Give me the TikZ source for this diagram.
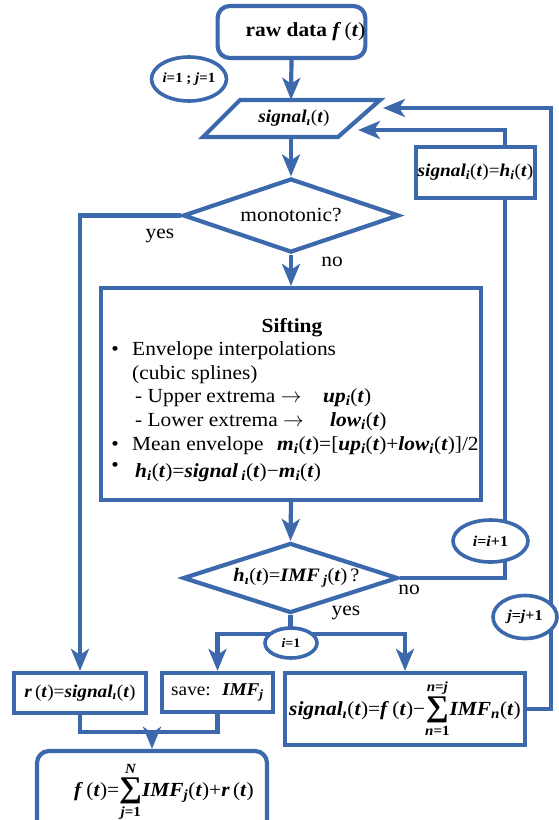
\documentclass[tikz,border=0pt]{standalone}
\usepackage{amsmath}
\usepackage{fontspec}
\setmainfont{Liberation Serif}[FakeStretch=1.07]
\usetikzlibrary{shapes.geometric,arrows.meta}
\definecolor{fb}{RGB}{60,104,172}
\newcommand\V[1]{\textbf{\textit{#1}}}
\newcommand\Sb[1]{\textsubscript{\V{#1}}}
\newcommand\Pt{(\V{t})}
\newcommand\fsz[1]{\fontsize{#1}{#1}\selectfont}
\newcommand\BigSum[2]{\ensuremath{\mathop{\raisebox{-1pt}{\fontsize{30}{30}\selectfont\bfseries ∑}}\limits_{\text{\bfseries #1}}^{\text{\bfseries #2}}}}
\begin{document}
\begin{tikzpicture}[x=1pt,y=-1pt,
  ln/.style={draw=fb,line width=4.2pt},
  arr/.style={ln,-{Stealth[length=22pt,width=18pt,inset=6pt]}},
  box/.style={draw=fb,line width=4.2pt,fill=white,inner sep=0,align=center,font=\fsz{18}},
  rbox/.style={box,rounded corners=12pt},
  dia/.style={diamond,aspect=3,draw=fb,line width=4.2pt,fill=white,inner sep=0,font=\fsz{19}},
  ell/.style={ellipse,draw=fb,line width=3.6pt,fill=white,inner sep=0,font=\fsz{14}},
  lbl/.style={inner sep=0,font=\fsz{20}},
  txt/.style={inner sep=0,anchor=base west,font=\fsz{20}}]
\useasboundingbox (0,0) rectangle (558,820);

% shapes
\node[rbox,minimum width=147pt,minimum height=52pt,font=\fsz{20}] (raw) at (291.5,32) {\hspace*{28pt}\textbf{raw data} \V{f}\,\Pt};
\node[inner sep=0,minimum width=100pt,minimum height=37pt,font=\fsz{18}] (sig) at (291,118.5) {\hspace*{6pt}\V{signal}\Sb{ı}\Pt};
\draw[ln] (203,137) -- (240,100) -- (380,100) -- (338,137) -- cycle;
\node[box,minimum width=119pt,minimum height=51pt] (hbox) at (475.5,172.5) {\V{signal}\Sb{i}\Pt=\V{h}\Sb{i}\Pt};
\node[dia,minimum width=216pt,minimum height=74pt,font=\fsz{20}] (d1) at (291,215.5) {monotonic?};
\node[box,minimum width=380pt,minimum height=212pt] (sift) at (291,394) {};
\node[dia,minimum width=215pt,minimum height=70pt] (d2) at (290.5,578) {\hspace*{12pt}\V{h}\Sb{ı}\Pt=\V{IMF}\,\Sb{j}\Pt\,?};
\node[box,minimum width=132pt,minimum height=40pt] (rb) at (80,693) {\V{r}\,\Pt=\V{signal}\Sb{ı}\Pt};
\node[box,minimum width=111pt,minimum height=39pt] (save) at (217.5,692.5) {save: \ \V{IMF}\Sb{j}};
\node[box,minimum width=240pt,minimum height=72pt,font=\fsz{20}] (sbox) at (405,709) {\V{signal}\Sb{ı}\Pt=\V{f}\,\Pt−\BigSum{\V{n}=1}{\V{n}=\V{j}}\V{IMF}\Sb{n}\Pt};
\node[rbox,minimum width=230pt,minimum height=90pt] (final) at (152,796) {};
\node[inner sep=0,anchor=base,font=\fsz{20}] (ftxt) at (164,796) {\V{f}\,\Pt=\BigSum{\V{j}=1}{\V{N}}\V{IMF}\Sb{j}\Pt+\V{r}\,\Pt};

% sifting text
\node[inner sep=0,anchor=base,font=\fsz{20}\bfseries] (s0) at (292,332) {Sifting};
\node[txt,anchor=base] (b1) at (115,355) {•};
\node[txt] (s1) at (132,355) {Envelope interpolations};
\node[txt] (s2) at (132,379) {(cubic splines)};
\node[txt] (s3) at (135,402) {- Upper extrema $\rightarrow$};
\node[txt] (s3b) at (323,402) {\V{up}\Sb{i}\Pt};
\node[txt] (s4) at (135,426) {- Lower extrema $\rightarrow$};
\node[txt] (s4b) at (330,426) {\V{low}\Sb{i}\Pt};
\node[txt,anchor=base] (b2) at (115,450) {•};
\node[txt] (s5) at (132,450) {Mean envelope};
\node[txt] (s5b) at (277,450) {\V{m}\Sb{i}\Pt=[\V{up}\Sb{i}\Pt+\V{low}\Sb{i}\Pt]/2};
\node[txt,anchor=base] (b3) at (115,471) {•};
\node[txt] (s6) at (135,477) {\V{h}\Sb{i}\Pt=\V{signal}\,\Sb{i}\Pt−\V{m}\Sb{i}\Pt};

% connectors
\coordinate (in1) at (383,108);
\coordinate (in2) at (358,130);
\coordinate (bar) at (290.5,634);
\coordinate (mg) at (152,732);
\draw[arr] (raw.south) -- (sig.north);
\draw[arr] (sig.south) -- (d1.north);
\draw[arr] (d1.west) -| (rb.north);
\draw[arr] (d1.south) -- (sift.north);
\draw[arr] (sift.south) -- (d2.north);
\draw[ln] (d2.east) -| ([xshift=-32pt]hbox.south east);
\draw[arr] ([xshift=-32pt]hbox.north east) |- (in2);
\draw[arr] (sbox.east) -- ++(24,0) |- (in1);
\draw[ln] (d2.south) -- (bar);
\draw[arr] (bar) -| (save.north);
\draw[arr] (bar) -| (sbox.north);
\draw[ln] (rb.south) |- (mg) -| (save.south);
\draw[arr] (mg) -- (final.north);

% ellipses on top
\node[ell,minimum width=75pt,minimum height=44pt,font=\fsz{14}\bfseries] (init) at (189,79) {\V{i}=1 ; \V{j}=1};
\node[ell,minimum width=75pt,minimum height=42pt,font=\fsz{15}\bfseries] (inc) at (490.5,541) {\V{i}=\V{i}+1};
\node[ell,minimum width=64pt,minimum height=43pt,font=\fsz{15}\bfseries] (jinc) at (525,617) {\V{j}=\V{j}+1};
\node[ell,minimum width=52pt,minimum height=30pt,font=\fsz{13}\bfseries] (one) at (291,643) {\V{i}=1};

% labels
\node[lbl] (yes1) at (160,236) {yes};
\node[lbl] (no1) at (332,262) {no};
\node[lbl] (no2) at (409,590) {no};
\node[lbl] (yes2) at (346,613) {yes};
\end{tikzpicture}
\end{document}
